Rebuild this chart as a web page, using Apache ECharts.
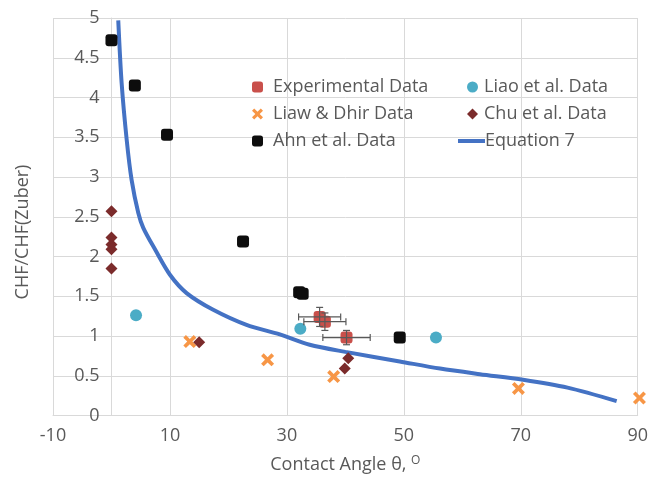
<!DOCTYPE html>
<html>
<head>
<meta charset="utf-8">
<script src="https://cdn.jsdelivr.net/npm/echarts@6/dist/echarts.min.js"></script>
<style>html,body{margin:0;padding:0;background:#fff;}#c{width:651px;height:479px;}</style>
</head>
<body>
<div id="c"></div>
<script>
// ---- data ----
const xTicks = [-10, 10, 30, 50, 70, 90];
const yTicks = [0, 0.5, 1, 1.5, 2, 2.5, 3, 3.5, 4, 4.5, 5];

const experimental = [[35.6, 1.24], [36.5, 1.18], [40.2, 0.98]];
const experimentalErr = [[3.6, 0.12], [3.6, 0.11], [4.05, 0.09]];
const liao = [[4.2, 1.26], [32.3, 1.09], [55.5, 0.98]];
const liawDhir = [[13.4, 0.93], [26.7, 0.70], [38.0, 0.49], [69.6, 0.34], [90.3, 0.22]];
const chu = [[0, 2.57], [0, 2.24], [0, 2.15], [0, 2.09], [0, 1.85], [15.0, 0.92], [40.5, 0.72], [39.9, 0.59]];
const ahn = [[0, 4.72], [4.0, 4.15], [9.5, 3.53], [22.5, 2.19], [32.1, 1.55], [32.7, 1.53], [49.3, 0.98]];
const eqX = [1.16, 1.74, 2.6, 3.45, 4.58, 5.44, 7.44, 10.0, 12.85, 17.4, 23.1, 28.8, 33.9, 40, 49.3, 56.2, 63, 70.4, 78, 86.4];
const eqY = [4.97, 4.18, 3.47, 2.96, 2.55, 2.36, 2.09, 1.77, 1.54, 1.33, 1.14, 1.02, 0.89, 0.80, 0.68, 0.59, 0.52, 0.45, 0.35, 0.18];

const FONT = 'Open Sans';
const FS = 18;
const TXT = '#595959';
const GRID = '#d9d9d9';
const X_PATH = 'path://M2,0 L5,3 L8,0 L10,2 L7,5 L10,8 L8,10 L5,7 L2,10 L0,8 L3,5 L0,2 Z';
const LINE_ICON = 'path://M0,0 L27,0 L27,4 L0,4 Z';

const chart = echarts.init(document.getElementById('c'), null, {renderer: 'canvas'});

const errData = experimental.map((p, i) => [p[0], p[1], experimentalErr[i][0], experimentalErr[i][1]]);

const option = {
  animation: false,
  backgroundColor: '#fff',
  textStyle: {fontFamily: FONT},
  grid: {left: 53, right: 13, top: 18, bottom: 63, containLabel: false},
  legend: [
    {
      data: [
        {name: 'Experimental Data', icon: 'roundRect'},
        {name: 'Liaw & Dhir Data', icon: X_PATH},
        {name: 'Ahn et al. Data', icon: 'roundRect'}
      ],
      orient: 'vertical', left: 247, top: 73,
      itemWidth: 11, itemHeight: 11, itemGap: 9,
      textStyle: {fontFamily: FONT, fontSize: FS, color: TXT, padding: [0, 0, 0, 5]}
    },
    {
      data: [
        {name: 'Liao et al. Data', icon: 'circle'},
        {name: 'Chu et al. Data', icon: 'diamond'}
      ],
      orient: 'vertical', left: 462, top: 73,
      itemWidth: 11, itemHeight: 11, itemGap: 9,
      textStyle: {fontFamily: FONT, fontSize: FS, color: TXT, padding: [0, 0, 0, 1]}
    },
    {
      data: [{name: 'Equation 7', icon: LINE_ICON}],
      orient: 'vertical', left: 453, top: 127,
      itemWidth: 27, itemHeight: 4, itemGap: 9,
      textStyle: {fontFamily: FONT, fontSize: FS, color: TXT, padding: [0, 0, 0, -5]}
    }
  ],
  xAxis: {
    type: 'value', min: xTicks[0], max: xTicks[xTicks.length - 1], interval: 20,
    name: 'Contact Angle θ, {sup|O}', nameLocation: 'middle', nameGap: 39,
    nameTextStyle: {fontFamily: FONT, fontSize: FS, color: TXT,
      rich: {sup: {fontFamily: FONT, fontSize: 12, color: TXT, verticalAlign: 'top', padding: [0, 0, 9, 0]}}},
    axisLine: {show: true, onZero: false, lineStyle: {color: GRID, width: 1}},
    axisTick: {show: false},
    axisLabel: {fontFamily: FONT, fontSize: FS, color: TXT, margin: 11},
    splitLine: {show: true, lineStyle: {color: GRID, width: 1}}
  },
  yAxis: {
    type: 'value', min: yTicks[0], max: yTicks[yTicks.length - 1], interval: 0.5,
    offset: -58.5,
    axisLine: {show: true, onZero: false, lineStyle: {color: GRID, width: 1}},
    axisTick: {show: false},
    axisLabel: {fontFamily: FONT, fontSize: FS, color: TXT, margin: 12},
    splitLine: {show: true, lineStyle: {color: GRID, width: 1}}
  },
  graphic: [{
    type: 'text', x: 23, y: 232, rotation: Math.PI / 2, z: 10,
    style: {text: 'CHF/CHF(Zuber)', fontFamily: FONT, fontSize: FS, fill: TXT, align: 'center', verticalAlign: 'middle'}
  }],
  series: [
    {
      name: 'Equation 7', type: 'line', data: eqX.map((x, i) => [x, eqY[i]]),
      showSymbol: false, symbol: 'none', smooth: 0.3, clip: true,
      lineStyle: {color: '#4472C4', width: 4}, itemStyle: {color: '#4472C4'}, z: 2
    },
    {
      name: 'Experimental Data', type: 'scatter', data: experimental,
      symbol: 'roundRect', symbolSize: 12, itemStyle: {color: '#C9504B', opacity: 1}, z: 4
    },
    {
      name: 'errbars', type: 'custom', data: errData, z: 5,
      encode: {x: 0, y: 1},
      renderItem: function (params, api) {
        const x = api.value(0), y = api.value(1), ex = api.value(2), ey = api.value(3);
        const l = api.coord([x - ex, y]), r = api.coord([x + ex, y]);
        const t = api.coord([x, y + ey]), b = api.coord([x, y - ey]);
        const c = 3.5;
        const st = {stroke: '#595959', lineWidth: 1.2, fill: null};
        return {type: 'group', children: [
          {type: 'line', shape: {x1: l[0], y1: l[1], x2: r[0], y2: r[1]}, style: st},
          {type: 'line', shape: {x1: l[0], y1: l[1] - c, x2: l[0], y2: l[1] + c}, style: st},
          {type: 'line', shape: {x1: r[0], y1: r[1] - c, x2: r[0], y2: r[1] + c}, style: st},
          {type: 'line', shape: {x1: t[0], y1: t[1], x2: b[0], y2: b[1]}, style: st},
          {type: 'line', shape: {x1: t[0] - c, y1: t[1], x2: t[0] + c, y2: t[1]}, style: st},
          {type: 'line', shape: {x1: b[0] - c, y1: b[1], x2: b[0] + c, y2: b[1]}, style: st}
        ]};
      }
    },
    {
      name: 'Liao et al. Data', type: 'scatter', data: liao,
      symbol: 'circle', symbolSize: 12, itemStyle: {color: '#4BACC6', opacity: 1}, z: 4
    },
    {
      name: 'Liaw & Dhir Data', type: 'scatter', data: liawDhir, clip: false,
      symbol: X_PATH, symbolSize: 13, itemStyle: {color: '#F79646', opacity: 1}, z: 4
    },
    {
      name: 'Chu et al. Data', type: 'scatter', data: chu,
      symbol: 'diamond', symbolSize: [12, 12], itemStyle: {color: '#7B2B2B', opacity: 1}, z: 4
    },
    {
      name: 'Ahn et al. Data', type: 'scatter', data: ahn,
      symbol: 'roundRect', symbolSize: 12, itemStyle: {color: '#0d0d0d', opacity: 1}, z: 4
    }
  ]
};
chart.setOption(option);
</script>
</body>
</html>
